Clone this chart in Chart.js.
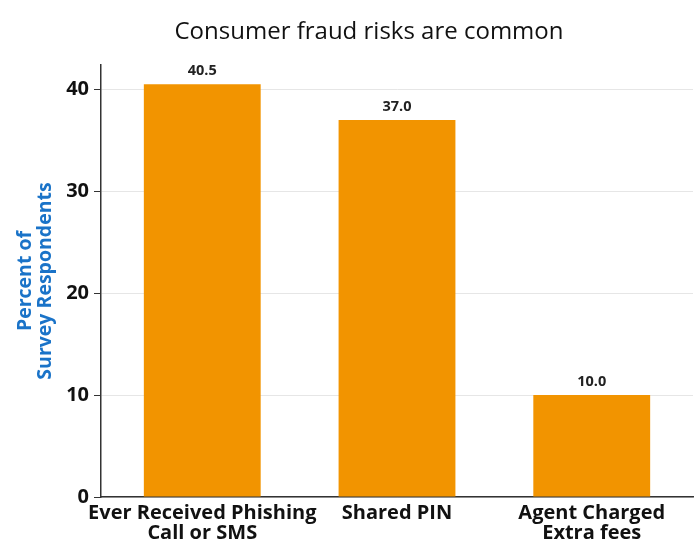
<!DOCTYPE html>
<html>
<head>
<meta charset="utf-8">
<script src="https://cdn.jsdelivr.net/npm/chart.js@4/dist/chart.umd.min.js"></script>
<style>
html,body{margin:0;padding:0;background:#fff;}
#wrap{width:700px;height:550px;position:relative;}
</style>
</head>
<body>
<div id="wrap"><canvas id="c" width="700" height="550"></canvas></div>
<script>
const chartTitle = 'Consumer fraud risks are common';
const categories = [
  ['Ever Received Phishing', 'Call or SMS'],
  ['Shared PIN'],
  ['Agent Charged', 'Extra fees']
];
const values = [40.5, 37.0, 10.0];
const yTicks = [0, 10, 20, 30, 40];
const yTitle = ['Percent of', 'Survey Respondents'];

const FONT = '"Open Sans", "DejaVu Sans", sans-serif';
const BAR = '#f29400';

const titlePlugin = {
  id: 'customTitle',
  afterDraw(chart) {
    const ctx = chart.ctx;
    ctx.save();
    ctx.font = '24px ' + FONT;
    ctx.fillStyle = '#111';
    ctx.textAlign = 'center';
    ctx.textBaseline = 'alphabetic';
    ctx.fillText(chartTitle, 369, 39);
    ctx.restore();
  }
};

const labelPlugin = {
  id: 'barLabels',
  afterDatasetsDraw(chart) {
    const ctx = chart.ctx;
    const meta = chart.getDatasetMeta(0);
    ctx.save();
    ctx.font = 'bold 14.5px ' + FONT;
    ctx.fillStyle = '#222';
    ctx.textAlign = 'center';
    ctx.textBaseline = 'alphabetic';
    meta.data.forEach((el, i) => {
      ctx.fillText(values[i].toFixed(1), el.x, el.y - 9);
    });
    ctx.restore();
  }
};

new Chart(document.getElementById('c'), {
  type: 'bar',
  data: {
    datasets: [{
      data: values.map((v, i) => ({x: i, y: v})),
      backgroundColor: BAR,
      borderWidth: 0,
      barPercentage: 0.6,
      categoryPercentage: 1.0
    }]
  },
  options: {
    responsive: false,
    animation: false,
    devicePixelRatio: 1,
    layout: {padding: {top: 65, right: 7, left: 0, bottom: 0}},
    plugins: {
      legend: {display: false},
      tooltip: {enabled: false},
      title: {display: false}
    },
    scales: {
      x: {
        type: 'linear',
        offset: false,
        min: -0.52,
        max: 2.52,
        afterBuildTicks(scale) {
          scale.ticks = categories.map((c, i) => ({value: i}));
        },
        afterFit(scale) { scale.height = 53; },
        grid: {display: false, drawTicks: false, offset: false},
        border: {display: true, color: '#333', width: 1.5},
        ticks: {
          autoSkip: false,
          maxRotation: 0,
          padding: 6,
          color: '#111',
          font: {family: FONT, size: 20, weight: 'bold', lineHeight: 1.0},
          callback(v) { return categories[v]; }
        }
      },
      y: {
        min: 0,
        max: 42.4,
        afterBuildTicks(scale) {
          scale.ticks = yTicks.map(v => ({value: v}));
        },
        afterFit(scale) { scale.width = 101; },
        grid: {color: '#e6e6e6', tickColor: '#333', tickLength: 7, lineWidth: 1},
        border: {display: true, color: '#333', width: 1.5},
        ticks: {
          padding: 5,
          color: '#111',
          font: {family: FONT, size: 20, weight: 'bold'}
        },
        title: {
          display: true,
          text: yTitle,
          color: '#1a73c8',
          padding: {top: 16, bottom: 0},
          font: {family: FONT, size: 19.5, weight: 'bold', lineHeight: 1.0}
        }
      }
    }
  },
  plugins: [titlePlugin, labelPlugin]
});
</script>
</body>
</html>
